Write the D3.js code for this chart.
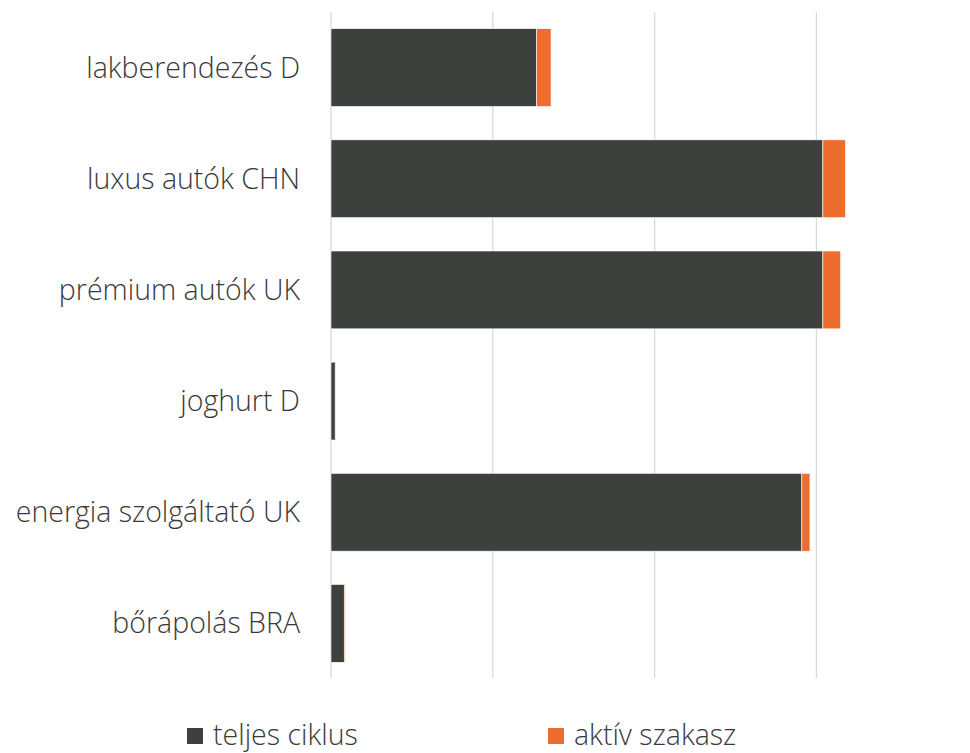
<!DOCTYPE html>
<html>
<head>
<meta charset="utf-8">
<script src="https://cdn.jsdelivr.net/npm/d3@7"></script>
<style>
  body { margin: 0; background: #fff; }
  text { font-family: "Open Sans", sans-serif; font-weight: 300; }
</style>
</head>
<body>
<div id="chart"></div>
<script>
// data
const categories = ["lakberendezés D", "luxus autók CHN", "prémium autók UK", "joghurt D", "energia szolgáltató UK", "bőrápolás BRA"];
const teljesCiklus = [6.35, 15.2, 15.2, 0.13, 14.55, 0.41];
const aktivSzakasz = [0.45, 0.70, 0.55, 0.02, 0.25, 0.03];
const seriesNames = ["teljes ciklus", "aktív szakasz"];
const colors = ["#3c413d", "#ed6d31"];
const tickValues = [0, 5, 10, 15, 20];

const width = 970, height = 753;
const margin = { top: 12, left: 331, bottom: 74 };
const unit = 161.8 / 5;

const svg = d3.select("#chart").append("svg")
  .attr("width", width)
  .attr("height", height);

const x = d3.scaleLinear()
  .domain([0, 20])
  .range([margin.left, margin.left + 20 * unit]);

const y = d3.scaleBand()
  .domain(categories)
  .range([margin.top, height - margin.bottom])
  .paddingInner(0.3)
  .paddingOuter(0.15);

// gridlines
svg.append("g")
  .selectAll("line")
  .data(tickValues)
  .join("line")
  .attr("x1", d => x(d)).attr("x2", d => x(d))
  .attr("y1", margin.top).attr("y2", height - margin.bottom - 1)
  .attr("stroke", "#d9d9d9")
  .attr("stroke-width", 1.3);

const rows = categories.map((c, i) => ({ cat: c, teljes: teljesCiklus[i], aktiv: aktivSzakasz[i] }));
const stack = d3.stack().keys(["teljes", "aktiv"])(rows);

svg.append("g")
  .selectAll("g")
  .data(stack)
  .join("g")
  .attr("fill", (d, i) => colors[i])
  .selectAll("rect")
  .data(d => d)
  .join("rect")
  .attr("x", d => x(d[0]))
  .attr("width", d => x(d[1]) - x(d[0]))
  .attr("y", d => y(d.data.cat))
  .attr("height", y.bandwidth())
  .attr("stroke", "#fff")
  .attr("stroke-width", 0.6);

// category labels
svg.append("g")
  .selectAll("text")
  .data(categories)
  .join("text")
  .attr("x", 300)
  .attr("y", d => y(d) + y.bandwidth() / 2)
  .attr("dy", "0.35em")
  .attr("text-anchor", "end")
  .attr("font-size", 28.5)
  .attr("fill", "#3a3a3a")
  .text(d => d);

// legend
const legendX = [187, 548];
const legend = svg.append("g")
  .selectAll("g")
  .data(seriesNames)
  .join("g")
  .attr("transform", (d, i) => `translate(${legendX[i]},728)`);
legend.append("rect")
  .attr("width", 16).attr("height", 16)
  .attr("fill", (d, i) => colors[i]);
legend.append("text")
  .attr("x", 26).attr("y", 17)
  .attr("font-size", 28.5)
  .attr("fill", "#3a3a3a")
  .text(d => d);
</script>
</body>
</html>
